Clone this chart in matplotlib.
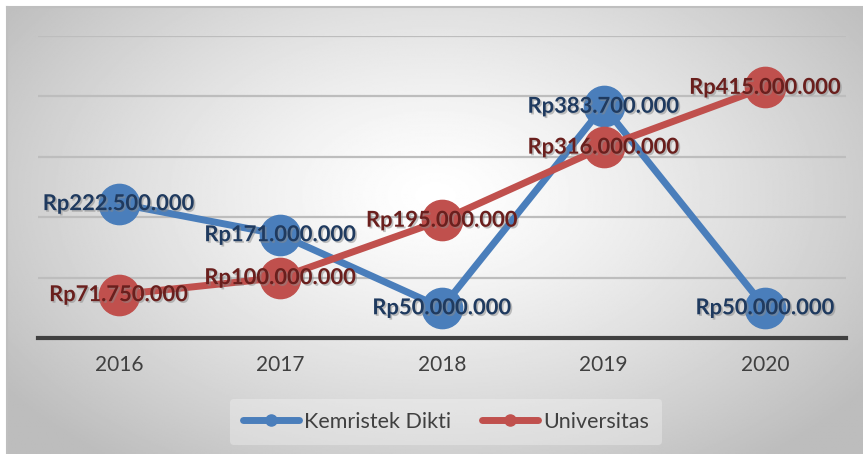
import numpy as np
import matplotlib
matplotlib.use("Agg")
import matplotlib.pyplot as plt
import matplotlib.patheffects as pe
from matplotlib.lines import Line2D

years = ["2016", "2017", "2018", "2019", "2020"]
kemristek = [222500000, 171000000, 50000000, 383700000, 50000000]
universitas = [71750000, 100000000, 195000000, 316000000, 415000000]

blue = "#4A7EBB"
red = "#C0504D"
blue_txt = "#1F3A5F"
red_txt = "#6A1F1D"

plt.rcParams["font.family"] = ["Lato", "DejaVu Sans"]

fig = plt.figure(figsize=(8.63, 4.54), dpi=100)

# radial gradient background, like the excel chart area
bg = fig.add_axes([7 / 863, 0, 856 / 863, 447 / 454], zorder=0)
yy, xx = np.mgrid[0:1:300j, 0:1:600j]
r = np.sqrt(((xx - 0.5) / 0.62) ** 2 + ((yy - 0.42) / 0.75) ** 2)
r = np.clip(r / 1.0, 0, 1)
val = 1.0 - 0.26 * r ** 1.3
bg.imshow(val, cmap="gray", vmin=0, vmax=1, aspect="auto", extent=[0, 1, 1, 0])
bg.set_xlim(0, 1)
bg.set_ylim(1, 0)
for s in ["top", "left"]:
    bg.spines[s].set_color("#BFBFBF")
    bg.spines[s].set_linewidth(1.5)
for s in ["bottom", "right"]:
    bg.spines[s].set_visible(False)
bg.set_xticks([])
bg.set_yticks([])

ax = fig.add_axes([38 / 863, 1 - 338 / 454, 808 / 863, 302 / 454], zorder=1)
ax.patch.set_alpha(0)
x = np.arange(len(years))
ax.set_xlim(-0.5, len(years) - 0.5)
ax.set_ylim(0, 500000000)
ax.set_yticks([100000000, 200000000, 300000000, 400000000, 500000000])
ax.yaxis.grid(True, color="#BDBDBD", linewidth=1.6)
ax.set_axisbelow(True)
ax.tick_params(axis="y", left=False, labelleft=False)
ax.tick_params(axis="x", length=0, pad=12, labelsize=15, labelcolor="#404040")
ax.set_xticks(x)
ax.set_xticklabels(years)
for s in ["top", "left", "right"]:
    ax.spines[s].set_visible(False)
ax.spines["bottom"].set_color("#404040")
ax.spines["bottom"].set_linewidth(3)

ax.plot(x, kemristek, color=blue, lw=5, marker="o", markersize=29, zorder=3,
        solid_capstyle="round", clip_on=False)
ax.plot(x, universitas, color=red, lw=5, marker="o", markersize=29, zorder=4,
        solid_capstyle="round", clip_on=False)

shadow = [pe.withSimplePatchShadow(offset=(1.2, -1.2), shadow_rgbFace="#888888", alpha=0.5)]


def rp(v):
    return "Rp" + f"{v:,}".replace(",", ".")


for xi, v in zip(x, kemristek):
    ax.text(xi, v, rp(v), ha="center", va="center", fontsize=15.8, fontweight="bold",
            color=blue_txt, zorder=6, path_effects=shadow)
for xi, v in zip(x, universitas):
    ax.text(xi, v, rp(v), ha="center", va="center", fontsize=15.8, fontweight="bold",
            color=red_txt, zorder=6, path_effects=shadow)

handles = [
    Line2D([], [], color=blue, lw=5, marker="o", markersize=8, solid_capstyle="round"),
    Line2D([], [], color=red, lw=5, marker="o", markersize=8, solid_capstyle="round"),
]
leg = fig.legend(handles, ["Kemristek Dikti", "Universitas"], loc="center",
                 bbox_to_anchor=(446 / 863, 1 - 422 / 454), ncol=2, frameon=True,
                 fontsize=15.5, handlelength=2.6, columnspacing=1.45, handletextpad=0.25,
                 borderpad=0.6)
leg.get_frame().set_facecolor("#F7F7F7")
leg.get_frame().set_edgecolor("none")
leg.get_frame().set_alpha(0.35)
for t in leg.get_texts():
    t.set_color("#404040")

fig.savefig("out.png", dpi=100)
